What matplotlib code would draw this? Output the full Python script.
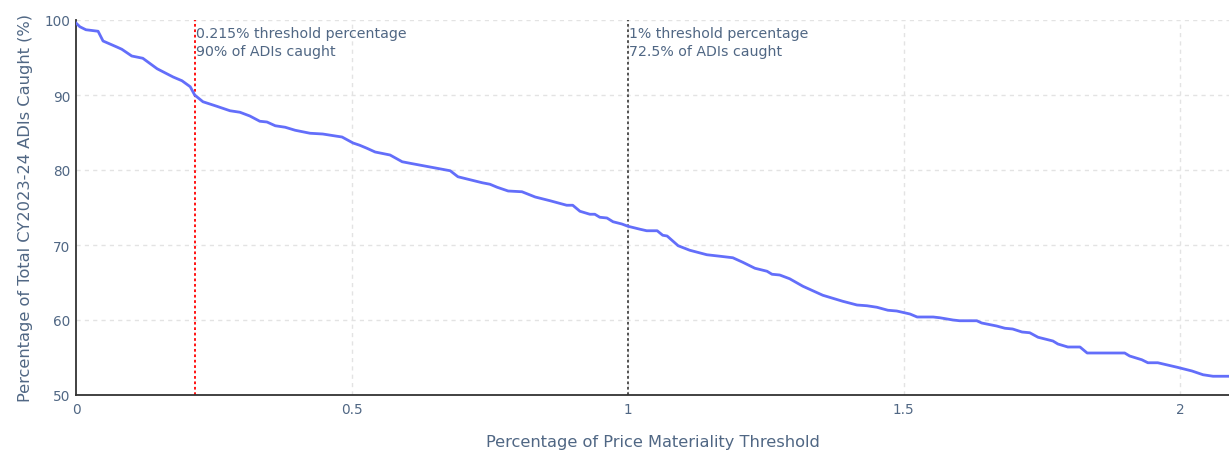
import matplotlib
matplotlib.use("Agg")
import matplotlib.pyplot as plt

threshold_pct = [0.0, 0.007, 0.018, 0.040, 0.049, 0.074, 0.083, 0.101, 0.121, 0.147,
                 0.176, 0.192, 0.207, 0.215, 0.230, 0.255, 0.279, 0.297, 0.315, 0.333,
                 0.346, 0.361, 0.379, 0.397, 0.424, 0.447, 0.473, 0.482, 0.502, 0.514,
                 0.527, 0.542, 0.569, 0.591, 0.605, 0.678, 0.692, 0.714, 0.736, 0.750,
                 0.763, 0.783, 0.808, 0.832, 0.859, 0.889, 0.900, 0.913, 0.931, 0.940,
                 0.949, 0.962, 0.973, 0.989, 1.0, 1.022, 1.034, 1.053, 1.063, 1.071,
                 1.091, 1.112, 1.143, 1.167, 1.190, 1.208, 1.230, 1.252, 1.261, 1.275,
                 1.293, 1.317, 1.335, 1.353, 1.389, 1.415, 1.433, 1.451, 1.471, 1.487,
                 1.511, 1.524, 1.553, 1.565, 1.589, 1.601, 1.632, 1.641, 1.668, 1.683,
                 1.697, 1.714, 1.728, 1.743, 1.770, 1.779, 1.797, 1.819, 1.832, 1.900,
                 1.909, 1.931, 1.942, 1.960, 1.995, 2.022, 2.042, 2.060, 2.087]
caught_pct = [99.6, 99.1, 98.7, 98.5, 97.2, 96.4, 96.1, 95.2, 94.9, 93.5,
              92.4, 91.9, 91.1, 90.0, 89.1, 88.5, 87.9, 87.7, 87.2, 86.5,
              86.4, 85.9, 85.7, 85.3, 84.9, 84.8, 84.5, 84.4, 83.6, 83.3,
              82.9, 82.4, 82.0, 81.1, 80.9, 79.9, 79.1, 78.7, 78.3, 78.1,
              77.7, 77.2, 77.1, 76.4, 75.9, 75.3, 75.3, 74.5, 74.1, 74.1,
              73.7, 73.6, 73.1, 72.8, 72.5, 72.1, 71.9, 71.9, 71.3, 71.2,
              69.9, 69.3, 68.7, 68.5, 68.3, 67.7, 66.9, 66.5, 66.1, 66.0,
              65.5, 64.5, 63.9, 63.3, 62.5, 62.0, 61.9, 61.7, 61.3, 61.2,
              60.8, 60.4, 60.4, 60.3, 60.0, 59.9, 59.9, 59.6, 59.2, 58.9,
              58.8, 58.4, 58.3, 57.7, 57.2, 56.8, 56.4, 56.4, 55.6, 55.6,
              55.2, 54.7, 54.3, 54.3, 53.7, 53.2, 52.7, 52.5, 52.5]

marker_x = [0.215, 1.0]
marker_colors = ["red", "#444444"]
marker_labels = ["0.215% threshold percentage\n90% of ADIs caught",
                 "1% threshold percentage\n72.5% of ADIs caught"]

x_ticks = [0, 0.5, 1, 1.5, 2]
x_tick_labels = ["0", "0.5", "1", "1.5", "2"]
y_ticks = [50, 60, 70, 80, 90, 100]

text_color = "#506784"
plt.rcParams['font.family'] = ['DejaVu Sans']

fig = plt.figure(figsize=(12.29, 4.52), dpi=100)
ax = fig.add_axes([76 / 1229, 1 - 396 / 452, (1229 - 76) / 1229, (396 - 21) / 452])

ax.set_xlim(0, 2.089)
ax.set_ylim(50, 100)

for v in x_ticks[1:]:
    ax.axvline(v, color="#e3e3e3", linestyle=(0, (3, 3)), linewidth=1, zorder=0)
for v in y_ticks[1:]:
    ax.axhline(v, color="#e3e3e3", linestyle=(0, (3, 3)), linewidth=1, zorder=0)

ax.plot(threshold_pct, caught_pct, color="#636efa", linewidth=2, zorder=3,
        solid_joinstyle="round")

for xv, c, lab in zip(marker_x, marker_colors, marker_labels):
    ax.axvline(xv, color=c, linestyle=(0, (1.5, 1.5)), linewidth=1.3, zorder=2)
    ax.text(xv + 0.002, 99.2, lab, color=text_color, fontsize=10.2,
            ha="left", va="top", linespacing=1.4)

ax.set_xticks(x_ticks)
ax.set_xticklabels(x_tick_labels)
ax.set_yticks(y_ticks)
ax.tick_params(axis="both", length=0, colors=text_color, labelsize=9.8)
ax.tick_params(axis="x", pad=5)
ax.tick_params(axis="y", pad=4)
for s in ["top", "right"]:
    ax.spines[s].set_visible(False)
for s in ["left", "bottom"]:
    ax.spines[s].set_color("#333333")
    ax.spines[s].set_linewidth(1.3)

ax.set_xlabel("Percentage of Price Materiality Threshold", color=text_color,
              fontsize=11.7, labelpad=13)
ax.set_ylabel("Percentage of Total CY2023-24 ADIs Caught (%)", color=text_color,
              fontsize=11.7, labelpad=8)

fig.savefig("out.png", dpi=100)
